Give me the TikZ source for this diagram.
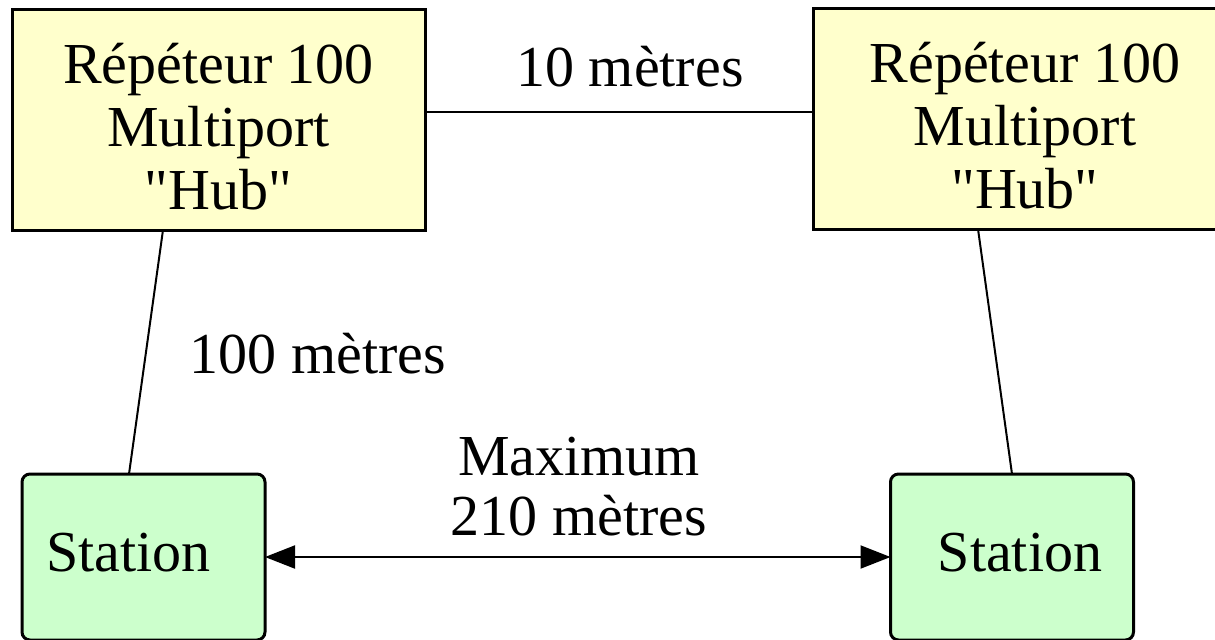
\documentclass[tikz,border=0pt]{standalone}
\usepackage{fontspec}
\setmainfont{Liberation Serif}
\newfontfamily\hubfont{Liberation Serif}
\usepackage{tikz}
\usetikzlibrary{positioning, arrows.meta}

\definecolor{hubyellow}{HTML}{FFFFCC}
\definecolor{stationgreen}{HTML}{CCFFCC}

\begin{document}
\begin{tikzpicture}[x=0.5pt, y=-0.5pt, outer sep=0pt,
    hubbox/.style={draw, line width=1.5pt, fill=hubyellow, rectangle, minimum height=110.5pt, align=center, font=\fontsize{29}{31.5}\hubfont},
    stationbox/.style={draw, line width=1.5pt, fill=stationgreen, rounded corners=4pt, minimum width=121.5pt, minimum height=83pt, text depth=5pt, font=\fontsize{29}{30}\selectfont},
    lbl/.style={font=\fontsize{29}{30}\selectfont, anchor=base, inner sep=0pt},
    link/.style={line width=1pt}]
        \useasboundingbox (0,0) rectangle (1215,639);

        \node (hubA) [hubbox, minimum width=206.5pt] at (218.5,119.5) {\rule{0pt}{27pt}Répéteur 100\\Multiport\\"Hub"};
        \node (hubB) [hubbox, minimum width=212pt] at (1025,118.5) {\rule{0pt}{27pt}Répéteur 100\\Multiport\\"Hub"};

        \node (staA) [stationbox] at (143.5,557) {\kern-15pt Station};
        \node (staB) [stationbox] at (1012,557) {Station\kern-8pt};

        \node (ten) [lbl] at (630,86) {10 mètres};
        \node (hundred) [lbl] at (318,373) {100 mètres};
        \node (maxA) [lbl] at (579,475) {Maximum};
        \node (maxB) [lbl] at (579,535) {210 mètres};

        \draw [link] ([yshift=3.75pt]hubA.east) -- ([yshift=3.25pt]hubB.west);
        \draw [link] ([xshift=-27.75pt]hubA.south) -- ([xshift=-7.25pt]staA.north);
        \draw [link] ([xshift=-23.5pt]hubB.south) -- (staB.north);
        \draw [link, {Triangle[length=15pt,width=11.5pt]}-{Triangle[length=15pt,width=11.5pt]}] (staA.east) -- (staB.west);
    \end{tikzpicture}
\end{document}
